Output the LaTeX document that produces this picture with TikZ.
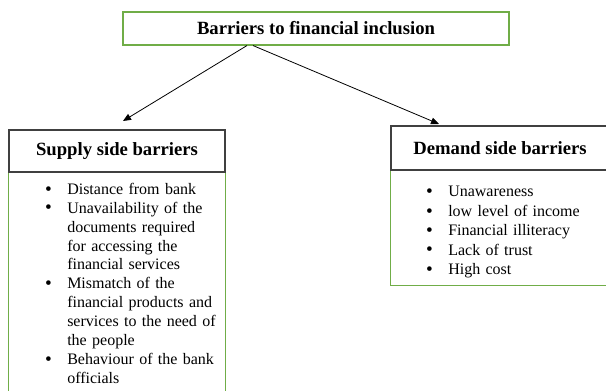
\documentclass[tikz,border=0pt]{standalone}
\usepackage{fontspec}
\setmainfont{Liberation Serif}
\usepackage{xcolor}
\usepackage{enumitem}
\usetikzlibrary{arrows.meta}

\definecolor{boxgreen}{RGB}{112,173,71}
\definecolor{boxgray}{RGB}{64,64,64}

\tikzset{
  titlebox/.style={draw=boxgreen, line width=0.8pt, minimum width=289.5pt, minimum height=24.75pt, font=\fontsize{14}{16}\selectfont\bfseries},
  headbox/.style={draw=boxgray, line width=0.8pt, minimum width=162pt, minimum height=31.5pt, font=\fontsize{14}{16}\selectfont\bfseries},
  sideline/.style={draw=boxgreen, line width=0.6pt},
  branch/.style={-{Triangle[length=6pt,width=5pt]}, line width=0.6pt},
  bullets/.style={anchor=north west, inner sep=0pt, text width=170pt, align=left, font=\fontsize{12}{14.2}\selectfont}
}
\setlist[itemize]{label={\raisebox{-0.6pt}{\fontsize{14.5}{14}\selectfont\textbullet}}, leftmargin=15pt, labelsep=11.5pt, itemsep=0pt, topsep=0pt, parsep=0pt, partopsep=0pt}

\begin{document}
\begin{tikzpicture}[x=0.75pt,y=-0.75pt]
\useasboundingbox (0,0) rectangle (606,390);

\node[titlebox] (barriers) at (316,28.5) {Barriers to financial inclusion};

\node[headbox] (supply) at (117,151) {Supply side barriers};
\node[headbox, minimum width=163.5pt, minimum height=33pt] (demand) at (500,148) {Demand side barriers};

\draw[sideline] (supply.south west) -- ++(0,230);
\draw[sideline] (supply.south east) -- ++(0,230);
\draw[sideline] (demand.south east) -- ++(0,115) -| (demand.south west);

\node[bullets] (supplylist) at (47,175) {\begin{itemize}
  \item Distance from bank
  \item Unavailability of the\\ documents required\\ for accessing the\\ financial services
  \item Mismatch of the\\ financial products and\\ services to the need of\\ the people
  \item Behaviour of the bank\\ officials
\end{itemize}};

\node[bullets, font=\fontsize{12}{14.6}\selectfont] (demandlist) at (428,177) {\begin{itemize}
  \item Unawareness
  \item low level of income
  \item Financial illiteracy
  \item Lack of trust
  \item High cost
\end{itemize}};

\coordinate (supplytip) at (123,121);
\coordinate (demandtip) at (439,124);
\draw[branch] ([xshift=-51.75pt]barriers.south) -- (supplytip);
\draw[branch] ([xshift=-47.25pt]barriers.south) -- (demandtip);
\end{tikzpicture}
\end{document}
